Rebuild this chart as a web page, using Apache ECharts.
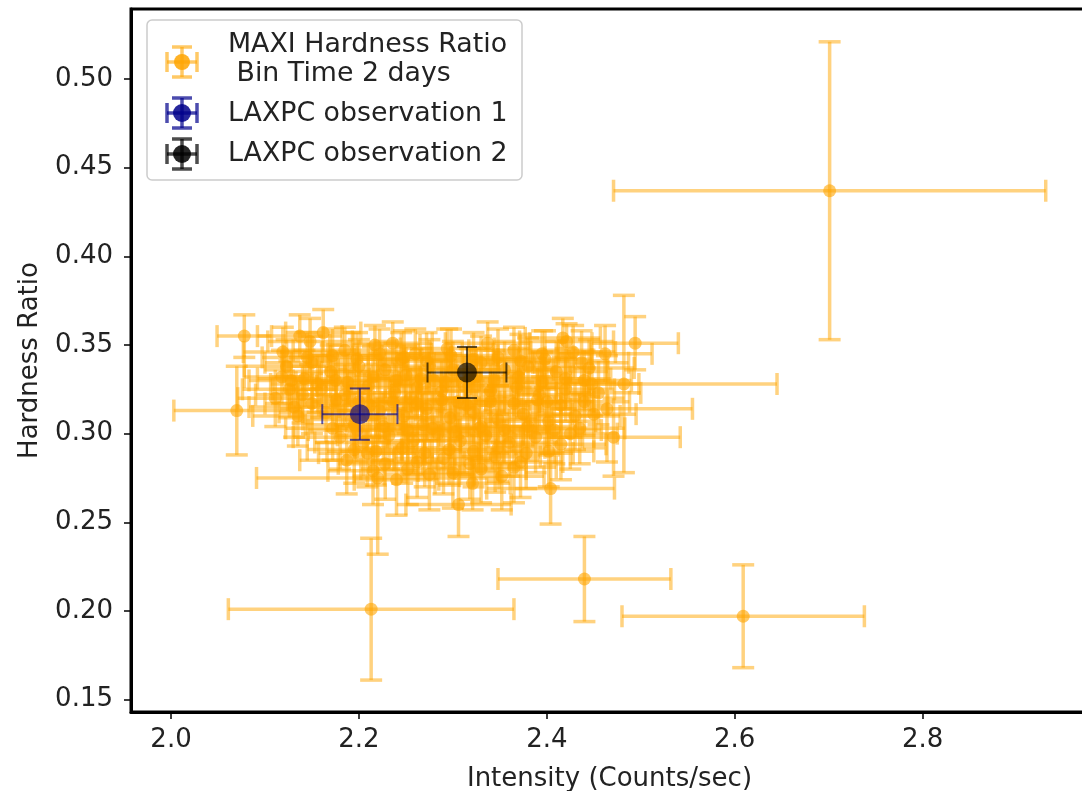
<!DOCTYPE html>
<html>
<head>
<meta charset="utf-8">
<script src="https://cdn.jsdelivr.net/npm/echarts@6/dist/echarts.min.js"></script>
<style>
  html, body { margin: 0; padding: 0; background: #fff; }
  #chart { width: 1082px; height: 791px; }
</style>
</head>
<body>
<div id="chart"></div>
<script>
// MAXI hardness ratio vs intensity, 2-day bins: value and symmetric 1-sigma errors
const maxiIntensity = [
  2.701, 2.609, 2.440, 2.213, 2.306, 2.404, 2.070, 2.078, 2.494, 2.482, 2.464, 2.471, 2.421, 2.437, 2.220, 2.321,
  2.137, 2.162, 2.119, 2.217, 2.236, 2.294, 2.337, 2.417, 2.185, 2.260, 2.365, 2.395, 2.150, 2.128, 2.111, 2.140, 2.135, 2.170, 2.200, 2.228, 2.250, 2.275, 2.300, 2.330, 2.355, 2.380, 2.410, 2.445,
  2.160, 2.185, 2.210, 2.238, 2.262, 2.288, 2.312, 2.340, 2.368, 2.392, 2.420, 2.455,
  2.165, 2.192, 2.222, 2.248, 2.272, 2.297, 2.322, 2.348, 2.375, 2.402, 2.430,
  2.180, 2.205, 2.232, 2.258, 2.284, 2.308, 2.335, 2.360, 2.388, 2.415,
  2.187, 2.209, 2.240, 2.262, 2.290, 2.318, 2.345, 2.372, 2.228, 2.275, 2.352,
  2.200, 2.255, 2.305, 2.280, 2.245, 2.195, 2.325, 2.400, 2.440, 2.462, 2.425, 2.450, 2.268, 2.330, 2.175,
  2.145, 2.172, 2.198, 2.222, 2.248, 2.272, 2.298, 2.322, 2.348, 2.372, 2.398, 2.428,
  2.142, 2.188, 2.215, 2.240, 2.266, 2.292, 2.318, 2.344, 2.370, 2.395, 2.420, 2.448,
  2.150, 2.176, 2.212, 2.236, 2.262, 2.288, 2.315, 2.340, 2.365, 2.390, 2.415, 2.440,
  2.172, 2.198, 2.226, 2.252, 2.278, 2.302, 2.328, 2.355, 2.380, 2.408, 2.435,
  2.195, 2.218, 2.246, 2.270, 2.296, 2.322, 2.348, 2.378, 2.402,
  2.215, 2.252, 2.300, 2.330, 2.365,
  2.123, 2.131, 2.148, 2.126, 2.156, 2.118
];
const maxiHardness = [
  0.437, 0.197, 0.218, 0.201, 0.260, 0.269, 0.313, 0.355, 0.351, 0.328, 0.314, 0.298, 0.352, 0.340, 0.275, 0.272,
  0.355, 0.357, 0.346, 0.350, 0.351, 0.348, 0.351, 0.354, 0.347, 0.345, 0.347, 0.345, 0.340, 0.330, 0.320, 0.322, 0.310, 0.335, 0.338, 0.336, 0.333, 0.338, 0.336, 0.340, 0.336, 0.338, 0.335, 0.337,
  0.325, 0.322, 0.327, 0.323, 0.326, 0.324, 0.327, 0.324, 0.326, 0.322, 0.325, 0.323,
  0.312, 0.308, 0.313, 0.310, 0.314, 0.309, 0.312, 0.308, 0.311, 0.307, 0.310,
  0.298, 0.295, 0.299, 0.296, 0.300, 0.296, 0.299, 0.295, 0.298, 0.294,
  0.285, 0.289, 0.274, 0.284, 0.286, 0.283, 0.287, 0.284, 0.283, 0.277, 0.276,
  0.318, 0.320, 0.318, 0.330, 0.342, 0.305, 0.332, 0.318, 0.330, 0.345, 0.300, 0.311, 0.305, 0.304, 0.330,
  0.343, 0.344, 0.342, 0.345, 0.343, 0.341, 0.344, 0.342, 0.343, 0.341, 0.342, 0.346,
  0.331, 0.329, 0.332, 0.330, 0.331, 0.329, 0.331, 0.330, 0.332, 0.329, 0.331, 0.328,
  0.317, 0.319, 0.316, 0.318, 0.317, 0.319, 0.316, 0.318, 0.317, 0.319, 0.316, 0.318,
  0.303, 0.302, 0.304, 0.302, 0.303, 0.301, 0.303, 0.302, 0.304, 0.302, 0.303,
  0.291, 0.290, 0.292, 0.289, 0.291, 0.290, 0.292, 0.289, 0.290,
  0.279, 0.280, 0.278, 0.280, 0.281,
  0.338, 0.315, 0.352, 0.325, 0.328, 0.332
];
const maxiIntensityErr = [
  0.230, 0.129, 0.092, 0.152, 0.056, 0.068, 0.067, 0.029, 0.046, 0.163, 0.091, 0.071, 0.050, 0.050, 0.129, 0.040,
  0.045, 0.040, 0.042, 0.048, 0.042, 0.050, 0.045, 0.040, 0.055, 0.050, 0.048, 0.052, 0.050, 0.045, 0.040, 0.050, 0.048, 0.050, 0.052, 0.050, 0.055, 0.050, 0.048, 0.055, 0.052, 0.050, 0.055, 0.048,
  0.052, 0.050, 0.055, 0.050, 0.052, 0.055, 0.050, 0.052, 0.055, 0.050, 0.052, 0.045,
  0.050, 0.052, 0.050, 0.055, 0.052, 0.050, 0.055, 0.050, 0.052, 0.050, 0.048,
  0.050, 0.052, 0.055, 0.050, 0.052, 0.055, 0.050, 0.052, 0.050, 0.048,
  0.050, 0.052, 0.045, 0.050, 0.052, 0.050, 0.048, 0.045, 0.050, 0.048, 0.045,
  0.050, 0.052, 0.050, 0.048, 0.050, 0.052, 0.050, 0.050, 0.050, 0.050, 0.050, 0.045, 0.050, 0.050, 0.045,
  0.048, 0.052, 0.050, 0.055, 0.050, 0.052, 0.050, 0.055, 0.050, 0.052, 0.050, 0.045,
  0.050, 0.055, 0.050, 0.052, 0.055, 0.050, 0.052, 0.050, 0.055, 0.050, 0.048, 0.050,
  0.050, 0.052, 0.055, 0.050, 0.052, 0.050, 0.055, 0.052, 0.050, 0.055, 0.050, 0.048,
  0.050, 0.052, 0.050, 0.055, 0.050, 0.052, 0.055, 0.050, 0.052, 0.050, 0.048,
  0.050, 0.052, 0.050, 0.055, 0.050, 0.052, 0.050, 0.050, 0.048,
  0.048, 0.050, 0.050, 0.048, 0.045,
  0.045, 0.048, 0.045, 0.050, 0.050, 0.040
];
const maxiHardnessErr = [
  0.084, 0.029, 0.024, 0.040, 0.018, 0.020, 0.025, 0.012, 0.015, 0.050, 0.030, 0.022, 0.010, 0.018, 0.043, 0.015,
  0.012, 0.013, 0.014, 0.011, 0.012, 0.011, 0.012, 0.011, 0.013, 0.014, 0.013, 0.013, 0.015, 0.016, 0.016, 0.016, 0.017, 0.015, 0.015, 0.016, 0.016, 0.015, 0.016, 0.015, 0.016, 0.016, 0.017, 0.016,
  0.016, 0.017, 0.017, 0.017, 0.017, 0.017, 0.017, 0.018, 0.017, 0.018, 0.018, 0.018,
  0.017, 0.018, 0.018, 0.018, 0.018, 0.018, 0.018, 0.019, 0.018, 0.019, 0.019,
  0.018, 0.019, 0.019, 0.019, 0.019, 0.019, 0.020, 0.019, 0.020, 0.020,
  0.019, 0.019, 0.020, 0.020, 0.020, 0.020, 0.020, 0.020, 0.020, 0.020, 0.019,
  0.017, 0.017, 0.017, 0.016, 0.015, 0.018, 0.016, 0.018, 0.017, 0.016, 0.020, 0.019, 0.018, 0.019, 0.016,
  0.014, 0.015, 0.015, 0.014, 0.015, 0.016, 0.015, 0.015, 0.016, 0.015, 0.016, 0.015,
  0.016, 0.016, 0.017, 0.016, 0.017, 0.016, 0.017, 0.017, 0.016, 0.017, 0.017, 0.018,
  0.017, 0.017, 0.018, 0.017, 0.018, 0.017, 0.018, 0.018, 0.017, 0.018, 0.018, 0.019,
  0.018, 0.018, 0.019, 0.018, 0.019, 0.019, 0.018, 0.019, 0.019, 0.019, 0.020,
  0.019, 0.019, 0.020, 0.019, 0.020, 0.020, 0.019, 0.020, 0.020,
  0.019, 0.020, 0.020, 0.019, 0.020,
  0.015, 0.017, 0.013, 0.016, 0.016, 0.015
];

// LAXPC observations: [intensity, hardness, intensity error, hardness error]
const laxpcObs1 = [2.201, 0.311, 0.040, 0.0145];
const laxpcObs2 = [2.315, 0.3345, 0.042, 0.0144];

// Axis ticks
const xTicks = [2.0, 2.2, 2.4, 2.6, 2.8];
const yTicks = [0.15, 0.20, 0.25, 0.30, 0.35, 0.40, 0.45, 0.50];

const FONT = 'DejaVu Sans';
const ORANGE_LINE = 'rgba(255,165,0,0.5)';
const ORANGE_FILL = 'rgba(255,165,0,0.6)';
const BLUE = 'rgba(0,0,139,0.65)';
const BLACK = 'rgba(0,0,0,0.65)';

// Error-bar glyph: horizontal + vertical bars with caps, and a round marker
function errorBar(stroke, lineWidth, capHalf, radius, fill) {
  return function (params, api) {
    const x = api.value(0), y = api.value(1), ex = api.value(2), ey = api.value(3);
    const c = api.coord([x, y]);
    const l = api.coord([x - ex, y]);
    const r = api.coord([x + ex, y]);
    const t = api.coord([x, y + ey]);
    const b = api.coord([x, y - ey]);
    const ln = (x1, y1, x2, y2) => ({
      type: 'line',
      shape: { x1, y1, x2, y2 },
      style: { stroke, lineWidth, fill: null }
    });
    return {
      type: 'group',
      children: [
        ln(l[0], l[1], r[0], r[1]),
        ln(t[0], t[1], b[0], b[1]),
        ln(l[0], l[1] - capHalf, l[0], l[1] + capHalf),
        ln(r[0], r[1] - capHalf, r[0], r[1] + capHalf),
        ln(t[0] - capHalf, t[1], t[0] + capHalf, t[1]),
        ln(b[0] - capHalf, b[1], b[0] + capHalf, b[1]),
        { type: 'circle', shape: { cx: c[0], cy: c[1], r: radius }, style: { fill } }
      ]
    };
  };
}

// Legend glyph drawn inside the legend box
function legendGlyph(cx, cy, stroke, fill, radius) {
  const h = 15, cap = 10;
  const ln = (x1, y1, x2, y2) => ({
    type: 'line', z: 101, shape: { x1, y1, x2, y2 }, style: { stroke, lineWidth: 3.5 }
  });
  return [
    ln(cx - h, cy, cx + h, cy),
    ln(cx, cy - h, cx, cy + h),
    ln(cx - h, cy - cap, cx - h, cy + cap),
    ln(cx + h, cy - cap, cx + h, cy + cap),
    ln(cx - cap, cy - h, cx + cap, cy - h),
    ln(cx - cap, cy + h, cx + cap, cy + h),
    { type: 'circle', z: 102, shape: { cx, cy, r: radius }, style: { fill } }
  ];
}

const maxiData = maxiIntensity.map((v, i) => [v, maxiHardness[i], maxiIntensityErr[i], maxiHardnessErr[i]]);

const legendText = (x, y, text) => ({
  type: 'text', z: 103, x, y,
  style: { text, font: '26.8px "DejaVu Sans"', fill: '#222', verticalAlign: 'middle' }
});

const chart = echarts.init(document.getElementById('chart'), null, { renderer: 'canvas' });
chart.setOption({
  animation: false,
  backgroundColor: '#fff',
  grid: {
    left: 131, top: 9, right: -6, bottom: 79,
    containLabel: false, outerBoundsMode: 'none',
    show: true, borderColor: '#000', borderWidth: 3, backgroundColor: 'transparent'
  },
  xAxis: {
    type: 'value', min: 1.9574, max: 2.976,
    name: 'Intensity (Counts/sec)', nameLocation: 'middle', nameGap: 54,
    nameTextStyle: { fontFamily: FONT, fontSize: 26, color: '#222' },
    axisLine: { show: true, onZero: false, lineStyle: { color: '#000', width: 3 } },
    axisTick: { show: true, length: 7, lineStyle: { color: '#000', width: 1.5 }, customValues: xTicks },
    axisLabel: { customValues: xTicks, formatter: v => v.toFixed(1), fontFamily: FONT, fontSize: 26, color: '#222', margin: 15 },
    splitLine: { show: false }
  },
  yAxis: {
    type: 'value', min: 0.1430, max: 0.5395,
    name: 'Hardness Ratio', nameLocation: 'middle', nameGap: 88,
    nameTextStyle: { fontFamily: FONT, fontSize: 26, color: '#222' },
    axisLine: { show: true, onZero: false, lineStyle: { color: '#000', width: 3 } },
    axisTick: { show: true, length: 7, lineStyle: { color: '#000', width: 1.5 }, customValues: yTicks },
    axisLabel: { customValues: yTicks, formatter: v => v.toFixed(2), fontFamily: FONT, fontSize: 26, color: '#222', margin: 18 },
    splitLine: { show: false }
  },
  series: [
    {
      name: 'MAXI Hardness Ratio', type: 'custom', clip: true,
      renderItem: errorBar(ORANGE_LINE, 3.5, 11, 6.5, ORANGE_FILL),
      encode: { x: 0, y: 1 },
      data: maxiData, z: 2
    },
    {
      name: 'LAXPC observation 1', type: 'custom', clip: true,
      renderItem: errorBar(BLUE, 2, 10, 10, BLUE),
      encode: { x: 0, y: 1 },
      data: [laxpcObs1], z: 3
    },
    {
      name: 'LAXPC observation 2', type: 'custom', clip: true,
      renderItem: errorBar(BLACK, 2, 10, 10, BLACK),
      encode: { x: 0, y: 1 },
      data: [laxpcObs2], z: 4
    }
  ],
  graphic: [
    {
      type: 'rect', z: 100,
      shape: { x: 147, y: 20, width: 375, height: 160, r: 5 },
      style: { fill: 'rgba(255,255,255,0.8)', stroke: '#cccccc', lineWidth: 1.5 }
    },
    ...legendGlyph(182, 62, 'rgba(255,165,0,0.6)', 'rgba(255,165,0,0.85)', 8),
    ...legendGlyph(182, 113, 'rgba(0,0,139,0.7)', 'rgba(0,0,139,0.85)', 9),
    ...legendGlyph(182, 154, 'rgba(0,0,0,0.7)', 'rgba(0,0,0,0.85)', 9),
    legendText(228, 45, 'MAXI Hardness Ratio'),
    legendText(228, 74, ' Bin Time 2 days'),
    legendText(228, 114, 'LAXPC observation 1'),
    legendText(228, 154, 'LAXPC observation 2')
  ]
});
</script>
</body>
</html>
